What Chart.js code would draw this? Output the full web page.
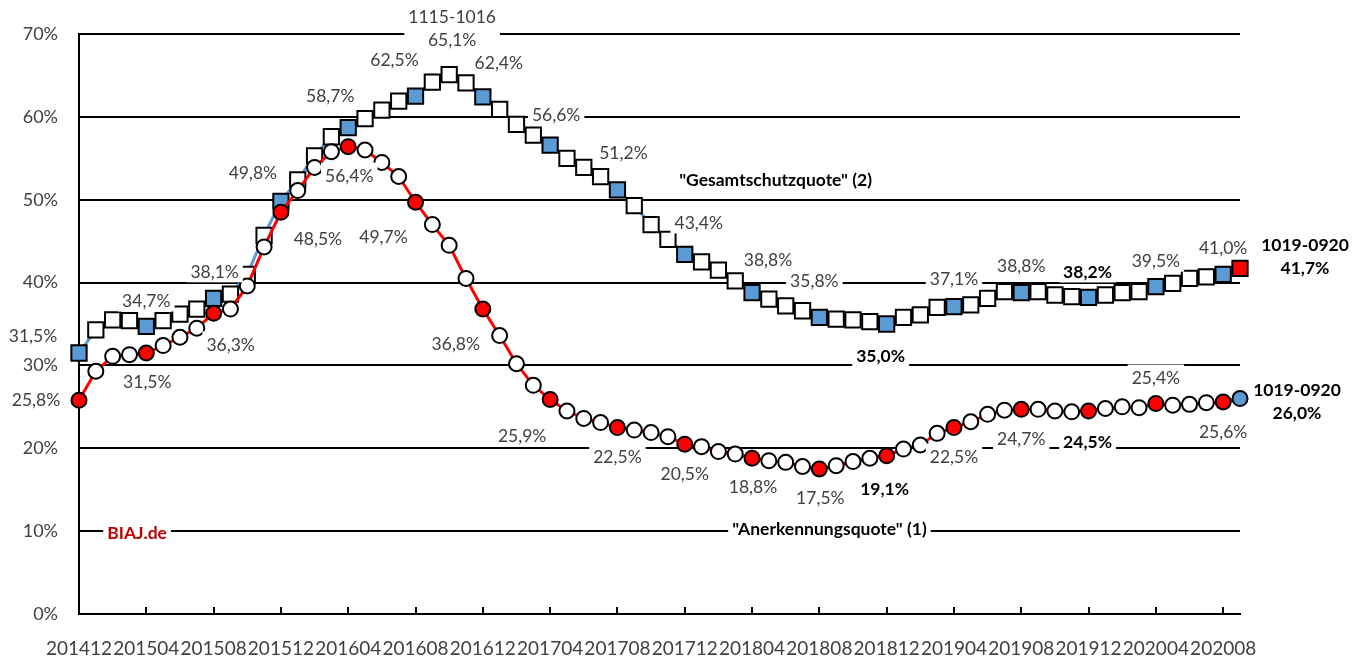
<!DOCTYPE html>
<html lang="de">
<head>
  <meta charset="UTF-8">
  <title>Anerkennungsquote und Gesamtschutzquote</title>
  <script src="https://cdn.jsdelivr.net/npm/chart.js"></script>
  <style>
    body { margin: 0; background: #fff; }
    canvas { display: block; }
  </style>
</head>
<body>
  <canvas id="quoten" width="1359" height="660"></canvas>

  <script>
    const months = [
      '201412','201501','201502','201503','201504','201505','201506','201507','201508','201509','201510','201511',
      '201512','201601','201602','201603','201604','201605','201606','201607','201608','201609','201610','201611',
      '201612','201701','201702','201703','201704','201705','201706','201707','201708','201709','201710','201711',
      '201712','201801','201802','201803','201804','201805','201806','201807','201808','201809','201810','201811',
      '201812','201901','201902','201903','201904','201905','201906','201907','201908','201909','201910','201911',
      '201912','202001','202002','202003','202004','202005','202006','202007','202008','202009'
    ];

    // "Gesamtschutzquote" (2), gleitende 12-Monats-Werte in %
    const gesamt = [
      31.5, 34.3, 35.5, 35.4, 34.7, 35.4, 36.2, 36.8, 38.1, 38.6, 41.0, 45.7,
      49.8, 52.4, 55.3, 57.6, 58.7, 59.8, 60.8, 61.9, 62.5, 64.2, 65.1, 64.1,
      62.4, 60.9, 59.1, 57.8, 56.6, 55.0, 53.9, 52.8, 51.2, 49.3, 47.0, 45.2,
      43.4, 42.5, 41.5, 40.2, 38.8, 38.0, 37.2, 36.6, 35.8, 35.6, 35.5, 35.3,
      35.0, 35.8, 36.1, 37.0, 37.1, 37.3, 38.1, 38.9, 38.8, 38.9, 38.5, 38.3,
      38.2, 38.5, 38.8, 38.9, 39.5, 39.9, 40.5, 40.7, 41.0, 41.7
    ];

    // "Anerkennungsquote" (1)
    const anerkennung = [
      25.8, 29.3, 31.1, 31.3, 31.5, 32.4, 33.4, 34.5, 36.3, 36.8, 39.6, 44.3,
      48.5, 51.1, 53.9, 55.8, 56.4, 56.0, 54.5, 52.8, 49.7, 47.0, 44.5, 40.5,
      36.8, 33.6, 30.2, 27.6, 25.9, 24.5, 23.6, 23.1, 22.5, 22.2, 21.9, 21.4,
      20.5, 20.2, 19.6, 19.3, 18.8, 18.5, 18.3, 17.8, 17.5, 17.9, 18.4, 18.8,
      19.1, 19.9, 20.4, 21.8, 22.5, 23.2, 24.1, 24.6, 24.7, 24.7, 24.5, 24.4,
      24.5, 24.8, 25.0, 24.9, 25.4, 25.2, 25.3, 25.5, 25.6, 26.0
    ];

    const yTicks = [0, 10, 20, 30, 40, 50, 60, 70];

    // Beschriftete Punkte: Index, Versatz zum Punkt (px), optional Kopfzeile
    const gesamtLabels = [
      { i: 0,  dx: -46, dy: -18 },
      { i: 4,  dx: 0,   dy: -26 },
      { i: 8,  dx: 1,   dy: -27 },
      { i: 12, dx: -28, dy: -29 },
      { i: 16, dx: -18, dy: -32 },
      { i: 20, dx: -21, dy: -37 },
      { i: 22, dx: 3,   dy: -35, top: '1115-1016' },
      { i: 24, dx: 16,  dy: -35 },
      { i: 28, dx: 6,   dy: -31 },
      { i: 32, dx: 6,   dy: -37 },
      { i: 36, dx: 14,  dy: -32 },
      { i: 40, dx: 16,  dy: -33 },
      { i: 44, dx: -5,  dy: -37 },
      { i: 48, dx: -6,  dy: 31, bold: true },
      { i: 52, dx: 0,   dy: -28 },
      { i: 56, dx: 0,   dy: -27 },
      { i: 60, dx: -1,  dy: -26, bold: true },
      { i: 64, dx: 0,   dy: -26 },
      { i: 68, dx: 0,   dy: -27 },
      { i: 69, dx: 65,  dy: -1, top: '1019-0920', bold: true }
    ];
    const anerkennungLabels = [
      { i: 0,  dx: -43, dy: -1 },
      { i: 4,  dx: 1,   dy: 28 },
      { i: 8,  dx: 17,  dy: 31 },
      { i: 12, dx: 37,  dy: 26 },
      { i: 16, dx: 1,   dy: 29 },
      { i: 20, dx: -32, dy: 34 },
      { i: 24, dx: -27, dy: 34 },
      { i: 28, dx: -28, dy: 36 },
      { i: 32, dx: 0,   dy: 29 },
      { i: 36, dx: 0,   dy: 29 },
      { i: 40, dx: 1,   dy: 28 },
      { i: 44, dx: 1,   dy: 28 },
      { i: 48, dx: -2,  dy: 33, bold: true },
      { i: 52, dx: 0,   dy: 29 },
      { i: 56, dx: 0,   dy: 29 },
      { i: 60, dx: -1,  dy: 30, bold: true },
      { i: 64, dx: 0,   dy: -26 },
      { i: 68, dx: 0,   dy: 29 },
      { i: 69, dx: 57,  dy: 14, top: '1019-0920', bold: true }
    ];

    const BLUE = '#5b9bd5';
    const RED = '#ff0000';
    const FONT = 'Lato';

    const fmt = v => v.toFixed(1).replace('.', ',') + '%';
    const last = months.length - 1;

    const squareFill = months.map((m, i) => i === last ? RED : (i % 4 === 0 ? BLUE : '#ffffff'));
    const circleFill = months.map((m, i) => i === last ? BLUE : (i % 4 === 0 ? RED : '#ffffff'));

    function drawBox(ctx, x, y, lines, bold, color) {
      ctx.font = (bold ? 'bold ' : '') + '17.5px ' + FONT;
      const lh = 23;
      const w = Math.max(...lines.map(t => ctx.measureText(t).width));
      const top = y - (lines.length - 1) * lh - 13;
      const h = (lines.length - 1) * lh + 24;
      ctx.fillStyle = '#fff';
      ctx.fillRect(x - w / 2 - 4, top, w + 8, h);
      ctx.fillStyle = color;
      ctx.textAlign = 'center';
      ctx.textBaseline = 'middle';
      lines.forEach((t, k) => ctx.fillText(t, x, y - (lines.length - 1 - k) * lh + 1));
    }

    const labelPlugin = {
      id: 'quotenLabels',
      afterDatasetsDraw(chart) {
        const ctx = chart.ctx;
        const xs = chart.scales.x, ys = chart.scales.y;
        ctx.save();

        // Teilstriche nach innen, alle 4 Monate
        ctx.strokeStyle = '#000';
        ctx.lineWidth = 2;
        months.forEach((m, i) => {
          if (i % 4 !== 0 || i === 0) return;
          const px = Math.round(xs.getPixelForValue(i));
          ctx.beginPath();
          ctx.moveTo(px, ys.bottom);
          ctx.lineTo(px, ys.bottom - 7);
          ctx.stroke();
        });

        const put = (data, list) => list.forEach(l => {
          const px = xs.getPixelForValue(l.i) + l.dx;
          const py = ys.getPixelForValue(data[l.i]) + l.dy;
          const lines = l.top ? [l.top, fmt(data[l.i])] : [fmt(data[l.i])];
          drawBox(ctx, px, py, lines, l.bold, l.bold ? '#000' : '#404040');
        });
        put(gesamt, gesamtLabels);
        put(anerkennung, anerkennungLabels);

        drawBox(ctx, xs.getPixelForValue(41.4), ys.getPixelForValue(52.4), ['"Gesamtschutzquote" (2)'], true, '#000');
        drawBox(ctx, xs.getPixelForValue(44.6), ys.getPixelForValue(10.3), ['"Anerkennungsquote" (1)'], true, '#000');
        drawBox(ctx, xs.getPixelForValue(3.45), ys.getPixelForValue(9.9), ['BIAJ.de'], true, '#c00000');

        ctx.restore();
      }
    };

    const ctx = document.getElementById('quoten').getContext('2d');
    new Chart(ctx, {
      type: 'line',
      data: {
        labels: months,
        datasets: [
          {
            label: '"Anerkennungsquote" (1)',
            data: anerkennung,
            order: 0,
            borderColor: RED,
            borderWidth: 3,
            tension: 0,
            clip: false,
            pointStyle: 'circle',
            pointRadius: 7.5,
            pointBorderWidth: 2,
            pointBorderColor: '#000',
            pointBackgroundColor: circleFill
          },
          {
            label: '"Gesamtschutzquote" (2)',
            data: gesamt,
            order: 1,
            borderColor: BLUE,
            borderWidth: 3,
            tension: 0,
            clip: false,
            pointStyle: 'rect',
            pointRadius: 10.8,
            pointBorderWidth: 2,
            pointBorderColor: '#000',
            pointBackgroundColor: squareFill
          }
        ]
      },
      options: {
        responsive: false,
        animation: false,
        events: [],
        layout: { padding: { left: 0, right: 119, top: 34, bottom: 0 } },
        plugins: {
          legend: { display: false },
          tooltip: { enabled: false }
        },
        scales: {
          x: {
            offset: false,
            grid: { display: false, drawTicks: false },
            border: { display: true, color: '#000', width: 2 },
            afterFit: s => { s.height = 46; },
            ticks: {
              autoSkip: false,
              maxRotation: 0,
              minRotation: 0,
              padding: 23,
              color: '#404040',
              font: { family: FONT, size: 19 },
              callback: (v, i) => (i % 4 === 0 ? months[i] : '')
            }
          },
          y: {
            min: 0,
            max: 70,
            afterFit: s => { s.width = 79; },
            afterBuildTicks: s => { s.ticks = yTicks.map(v => ({ value: v })); },
            grid: { color: '#000', lineWidth: 2, drawTicks: false },
            border: { display: true, color: '#000', width: 2 },
            ticks: {
              padding: 21,
              color: '#404040',
              font: { family: FONT, size: 18 },
              callback: v => v + '%'
            }
          }
        }
      },
      plugins: [labelPlugin]
    });
  </script>
</body>
</html>
